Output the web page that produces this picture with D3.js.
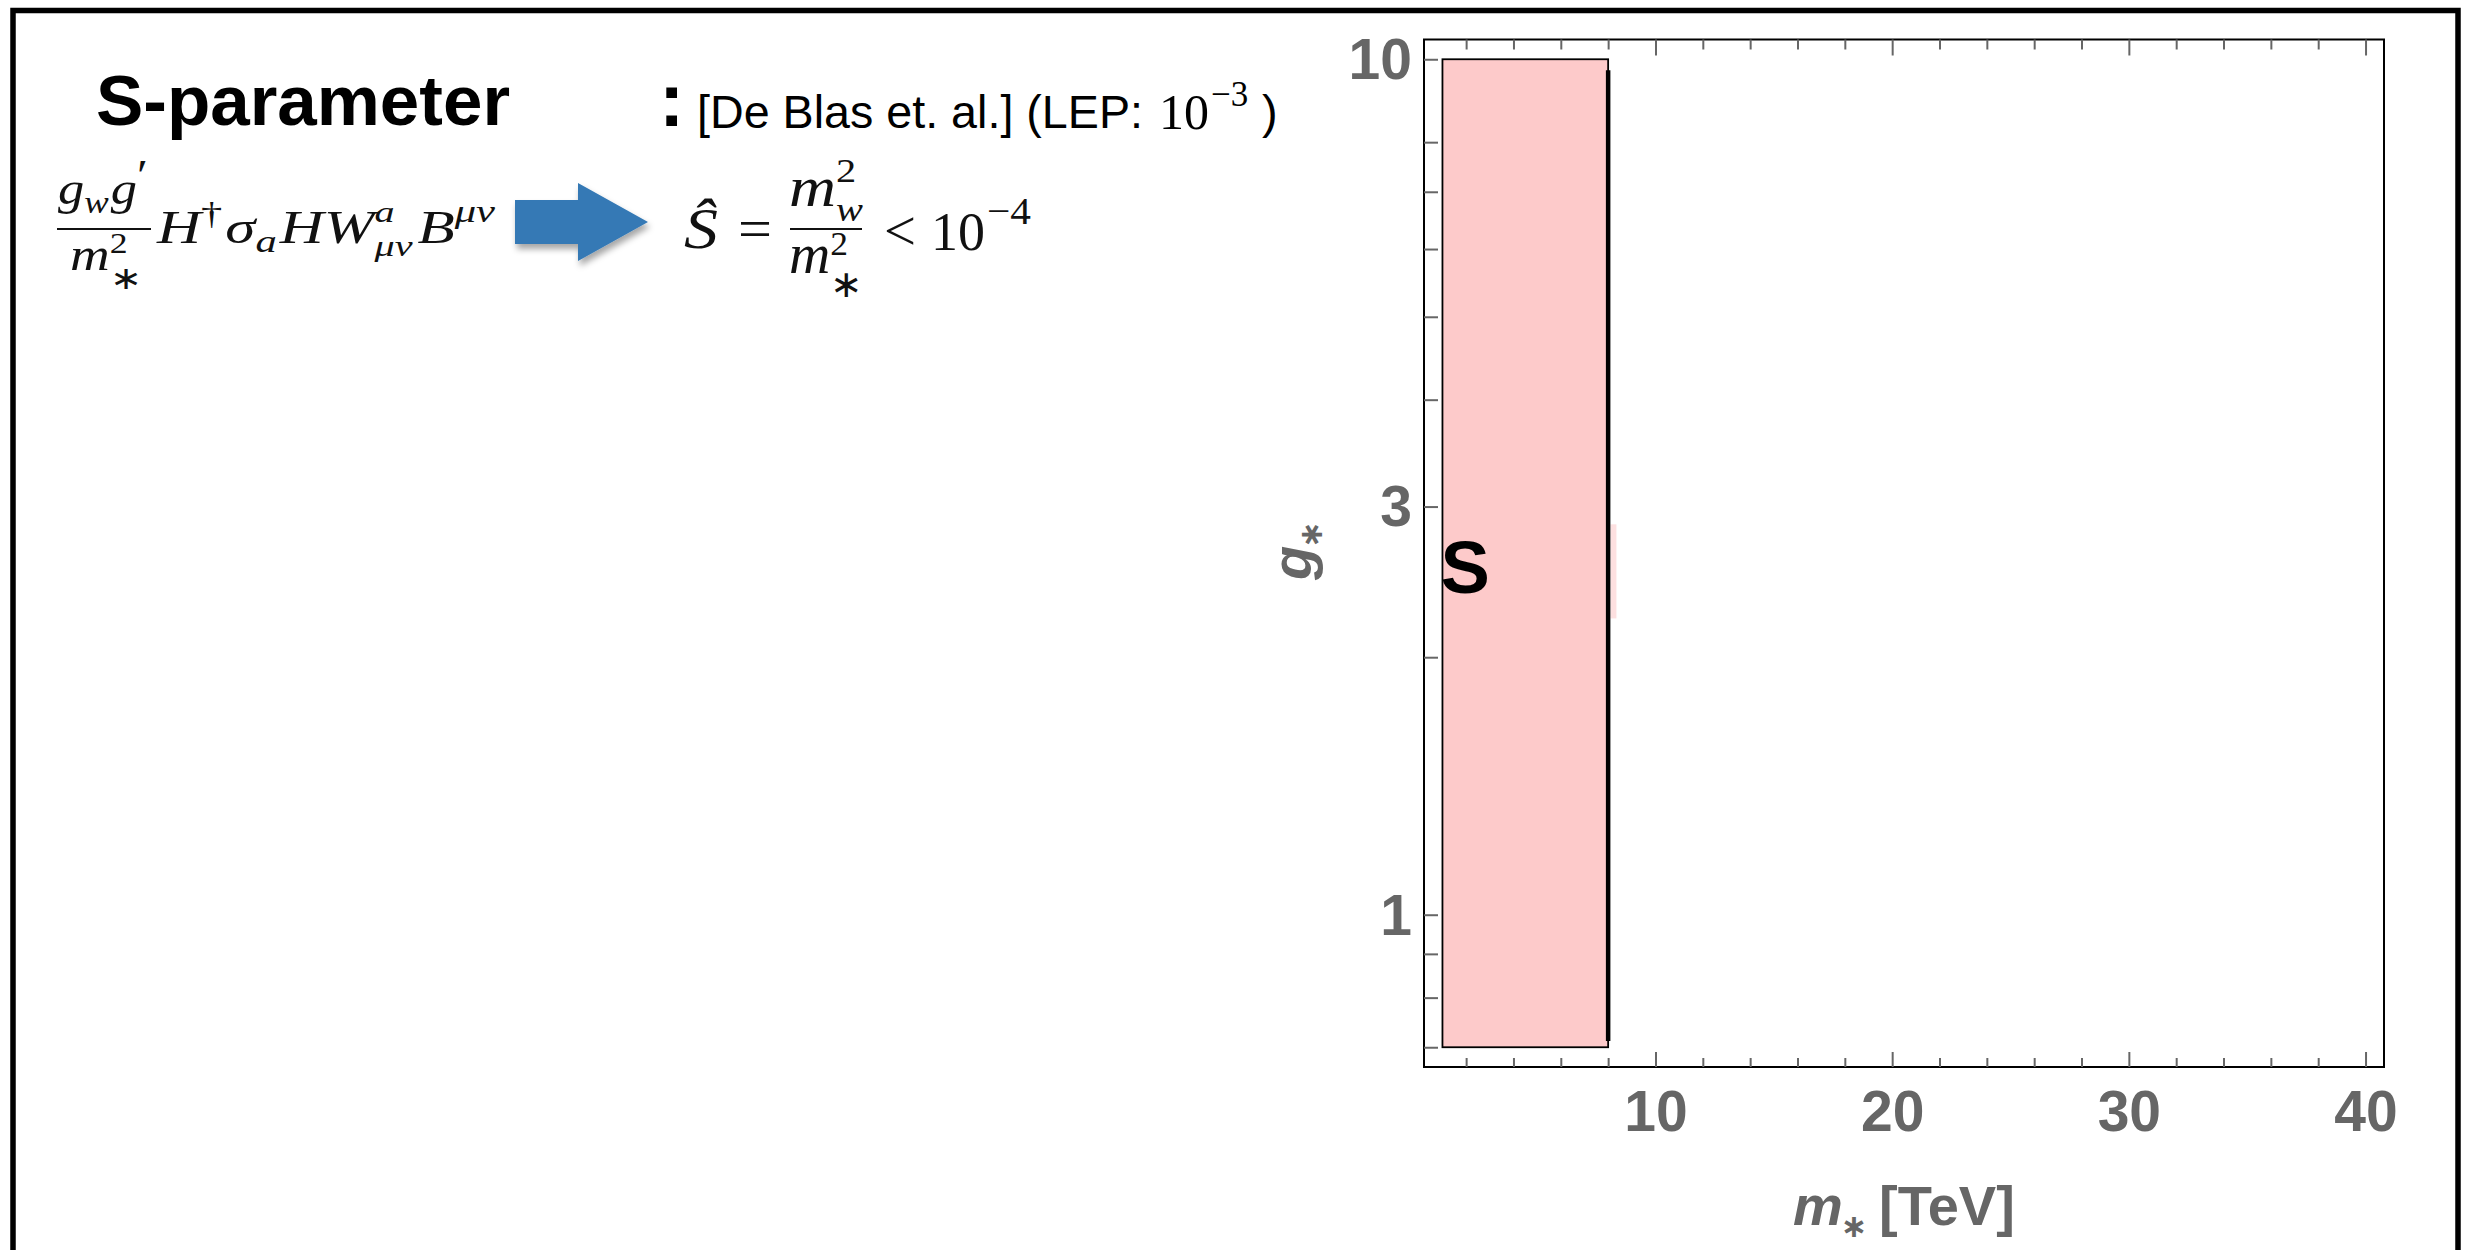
<!DOCTYPE html>
<html>
<head>
<meta charset="utf-8">
<script src="https://cdn.jsdelivr.net/npm/d3@7"></script>
<style>
  html, body { margin: 0; padding: 0; background: #ffffff; }
  svg { display: block; }
</style>
</head>
<body>
<script>
// ---- data: S-parameter exclusion in the (m*, g*) plane ----
const massRange = [1, 40];          // TeV, plotted m* range
const couplingRange = [0.7, 10];    // plotted g* range
const excluded = { mMin: 1, mMax: 8, gMin: 0.7, gMax: 10, label: "S" };
const contourM = [8, 8];            // S-hat = m_w^2/m*^2 = 1e-4  ->  m* = 8 TeV
const contourG = [0.712, 9.71];
const patchM = [8.1, 8.35];         // small label patch next to the contour
const patchG = [2.22, 2.86];
const xMajorTicks = [10, 20, 30, 40];
const xMinorTicks = [2, 4, 6, 8, 12, 14, 16, 18, 22, 24, 26, 28, 32, 34, 36, 38];
const yMajorTicks = [1, 3, 10];
const yMinorTicks = [0.7, 0.8, 0.9, 2, 4, 5, 6, 7, 8];

const W = 2465, H = 1250;
const sans = "'Liberation Sans', Arial, Helvetica, sans-serif";
const serif = "'Liberation Serif', 'Times New Roman', serif";
const starFont = "'DejaVu Sans', 'Liberation Sans', sans-serif";
const axisGray = "#666666";

const svg = d3.select("body").append("svg")
  .attr("width", W).attr("height", H)
  .attr("viewBox", `0 0 ${W} ${H}`);

svg.append("rect").attr("width", W).attr("height", H).attr("fill", "#ffffff");

const defs = svg.append("defs");
const shadow = defs.append("filter").attr("id", "arrowShadow")
  .attr("x", "-20%").attr("y", "-20%").attr("width", "150%").attr("height", "160%");
shadow.append("feDropShadow").attr("dx", 2).attr("dy", 5)
  .attr("stdDeviation", 3).attr("flood-color", "#000").attr("flood-opacity", 0.35);

// slide border
svg.append("path")
  .attr("d", `M13,${H + 10} V10.5 H2458 V${H + 10}`)
  .attr("fill", "none").attr("stroke", "#000").attr("stroke-width", 5.5);

// ---- slide text ----
svg.append("text").attr("x", 96).attr("y", 125)
  .attr("font-family", sans).attr("font-weight", "bold").attr("font-size", 70)
  .attr("textLength", 414).attr("lengthAdjust", "spacingAndGlyphs")
  .text("S-parameter");

svg.append("text").attr("x", 659).attr("y", 126)
  .attr("font-family", sans).attr("font-weight", "bold").attr("font-size", 76)
  .text(":");

svg.append("text").attr("x", 697).attr("y", 128)
  .attr("font-family", sans).attr("font-size", 47)
  .attr("textLength", 446).attr("lengthAdjust", "spacingAndGlyphs")
  .text("[De Blas et. al.] (LEP:");
svg.append("text").attr("x", 1159).attr("y", 129)
  .attr("font-family", serif).attr("font-size", 50).text("10");
svg.append("text").attr("x", 1211).attr("y", 106)
  .attr("font-family", serif).attr("font-size", 35).text("\u22123");
svg.append("text").attr("x", 1262).attr("y", 128)
  .attr("font-family", sans).attr("font-size", 47).text(")");

// lays out a row of math pieces; a stacked super/subscript pair is one text
// element whose two tspans share the same x slot
function mathRow(x0, y0, fs, pieces, opts = {}) {
  const g = svg.append("g");
  let x = 0;
  pieces.forEach(p => {
    const items = p.stack || [p];
    const t = g.append("text").attr("font-family", serif).attr("fill", "#111");
    let w = 0;
    items.forEach(it => {
      const k = (it.kern || 0) * fs;
      const ts = t.append("tspan")
        .attr("x", x + k).attr("y", (it.dy || 0) * fs)
        .attr("font-style", it.up ? "normal" : "italic")
        .attr("font-size", fs * (it.s || 1))
        .text(it.t);
      w = Math.max(w, ts.node().getComputedTextLength() + k);
    });
    x += w + (p.gap || 0) * fs;
  });
  const sx = opts.width ? opts.width / x : 1;
  const left = opts.center !== undefined ? opts.center - x * sx / 2 : x0;
  g.attr("transform", `translate(${left},${y0}) scale(${sx},1)`);
  return g;
}

// g_w g' / m*^2  H† σ_a H W^a_{μν} B^{μν}
mathRow(0, 204, 46, [
  { t: "g" }, { t: "w", s: 0.7, dy: 0.2 }, { t: "g", kern: 0.04 },
  { t: "\u2032", up: true, s: 0.95, dy: -0.3 }
], { center: 103, width: 90 });
svg.append("line").attr("x1", 57).attr("x2", 151).attr("y1", 229).attr("y2", 229)
  .attr("stroke", "#111").attr("stroke-width", 2);
mathRow(0, 270, 46, [
  { t: "m" },
  { stack: [{ t: "2", up: true, s: 0.65, dy: -0.36 }, { t: "\u2217", up: true, s: 0.7, dy: 0.42 }] }
], { center: 106, width: 72 });
mathRow(157, 243, 46, [
  { t: "H" }, { t: "\u2020", up: true, s: 0.7, dy: -0.42, gap: 0.05 },
  { t: "\u03C3" }, { t: "a", s: 0.7, dy: 0.2, gap: 0.05 },
  { t: "H" }, { t: "W" },
  { stack: [{ t: "a", s: 0.66, dy: -0.46 }, { t: "\u03BC\u03BD", s: 0.66, dy: 0.28 }], gap: 0.08 },
  { t: "B" }, { t: "\u03BC\u03BD", s: 0.7, dy: -0.45 }
], { width: 338 });

// arrow
const arrowPts = [[515, 200], [578, 200], [578, 183], [648, 222], [578, 261], [578, 244], [515, 244]];
svg.append("path").attr("d", d3.line()(arrowPts) + "Z")
  .attr("fill", "#3479b5").attr("filter", "url(#arrowShadow)");

// Ŝ = m_w^2 / m*^2 < 10^-4
mathRow(0, 248, 56, [{ t: "\u015C" }], { center: 701, width: 34 });
mathRow(738, 248, 56, [{ t: "=", up: true }], { width: 34 });
mathRow(0, 206, 56, [
  { t: "m" },
  { stack: [{ t: "2", up: true, s: 0.62, dy: -0.42 }, { t: "w", s: 0.62, dy: 0.26 }] }
], { center: 826, width: 74 });
svg.append("line").attr("x1", 790).attr("x2", 862).attr("y1", 229).attr("y2", 229)
  .attr("stroke", "#111").attr("stroke-width", 2);
mathRow(0, 273, 56, [
  { t: "m" },
  { stack: [{ t: "2", up: true, s: 0.62, dy: -0.32 }, { t: "\u2217", up: true, s: 0.68, dy: 0.42 }] }
], { center: 826, width: 74 });
mathRow(884, 250, 56, [{ t: "<", up: true }], { width: 32 });
mathRow(931, 250, 56, [{ t: "10", up: true }], { width: 54 });
mathRow(987, 224, 38, [{ t: "\u22124", up: true }], { width: 44 });

// ---- chart ----
const frame = { left: 1424, right: 2384, top: 39.5, bottom: 1067 };

// Mathematica-style 2% range padding on both axes
const xPad = 0.02 * (massRange[1] - massRange[0]);
const x = d3.scaleLinear()
  .domain([massRange[0] - xPad, massRange[1] + xPad])
  .range([frame.left, frame.right]);
const l0 = Math.log10(couplingRange[0]), l1 = Math.log10(couplingRange[1]);
const yPad = 0.02 * (l1 - l0);
const y = d3.scaleLog()
  .domain([Math.pow(10, l0 - yPad), Math.pow(10, l1 + yPad)])
  .range([frame.bottom, frame.top]);

const plot = svg.append("g");

// excluded region
plot.append("rect")
  .attr("x", x(excluded.mMin)).attr("y", y(excluded.gMax))
  .attr("width", x(excluded.mMax) - x(excluded.mMin))
  .attr("height", y(excluded.gMin) - y(excluded.gMax))
  .attr("fill", "#fdcaca").attr("stroke", "#000").attr("stroke-width", 1.8);

plot.append("rect")
  .attr("x", x(patchM[0])).attr("y", y(patchG[1]))
  .attr("width", x(patchM[1]) - x(patchM[0]))
  .attr("height", y(patchG[0]) - y(patchG[1]))
  .attr("fill", "#fde0e0");

// S-hat contour
plot.append("path")
  .attr("d", d3.line().x(d => x(d[0])).y(d => y(d[1]))(d3.zip(contourM, contourG)))
  .attr("fill", "none").attr("stroke", "#000").attr("stroke-width", 4.5);

plot.append("text")
  .attr("x", x(excluded.mMin) - 2).attr("y", y(2.56) + 28)
  .attr("font-family", sans).attr("font-weight", "bold").attr("font-size", 74)
  .attr("fill", "#000").text(excluded.label);

// frame
svg.append("rect")
  .attr("x", frame.left).attr("y", frame.top)
  .attr("width", frame.right - frame.left).attr("height", frame.bottom - frame.top)
  .attr("fill", "none").attr("stroke", "#000").attr("stroke-width", 2);

function styleAxis(g) {
  g.select(".domain").remove();
  g.selectAll(".tick line").attr("stroke", axisGray).attr("stroke-width", 2);
  g.selectAll(".tick text")
    .attr("font-family", sans).attr("font-weight", "bold")
    .attr("font-size", 57).attr("fill", axisGray);
}

// bottom axis (ticks inward)
svg.append("g").attr("transform", `translate(0,${frame.bottom})`)
  .call(d3.axisBottom(x).tickValues(xMajorTicks).tickSize(-15).tickPadding(24)
    .tickFormat(d3.format("d")))
  .call(styleAxis);
svg.append("g").attr("transform", `translate(0,${frame.bottom})`)
  .call(d3.axisBottom(x).tickValues(xMinorTicks).tickSize(-9).tickFormat(""))
  .call(styleAxis);

// top axis (mirrored ticks, no labels)
svg.append("g").attr("transform", `translate(0,${frame.top})`)
  .call(d3.axisTop(x).tickValues(xMajorTicks).tickSize(-16).tickFormat(""))
  .call(styleAxis);
svg.append("g").attr("transform", `translate(0,${frame.top})`)
  .call(d3.axisTop(x).tickValues(xMinorTicks).tickSize(-10).tickFormat(""))
  .call(styleAxis);

// left axis
const yAxisG = svg.append("g").attr("transform", `translate(${frame.left},0)`)
  .call(d3.axisLeft(y).tickValues(yMajorTicks).tickSize(-14).tickPadding(12)
    .tickFormat(d3.format("d")))
  .call(styleAxis);
yAxisG.selectAll(".tick text").attr("dy", "0.34em");
svg.append("g").attr("transform", `translate(${frame.left},0)`)
  .call(d3.axisLeft(y).tickValues(yMinorTicks).tickSize(-14).tickFormat(""))
  .call(styleAxis);

// axis titles
const xt = svg.append("text").attr("x", 1793).attr("y", 1225)
  .attr("font-family", sans).attr("font-weight", "bold").attr("fill", axisGray);
xt.append("tspan").attr("font-style", "italic").attr("font-size", 56).text("m");
xt.append("tspan").attr("font-family", starFont).attr("font-size", 32)
  .attr("dx", -2).attr("dy", 12).text("\u2217");
svg.append("text").attr("x", 1879).attr("y", 1225)
  .attr("font-family", sans).attr("font-weight", "bold").attr("font-size", 56)
  .attr("fill", axisGray).text("[TeV]");

const yt = svg.append("text").attr("transform", "translate(1311,580) rotate(-90)")
  .attr("font-family", sans).attr("font-weight", "bold").attr("fill", axisGray);
yt.append("tspan").attr("font-style", "italic").attr("font-size", 56).text("g");
yt.append("tspan").attr("font-family", starFont).attr("font-size", 32)
  .attr("dx", -2).attr("dy", 11).text("\u2217");
</script>
</body>
</html>
